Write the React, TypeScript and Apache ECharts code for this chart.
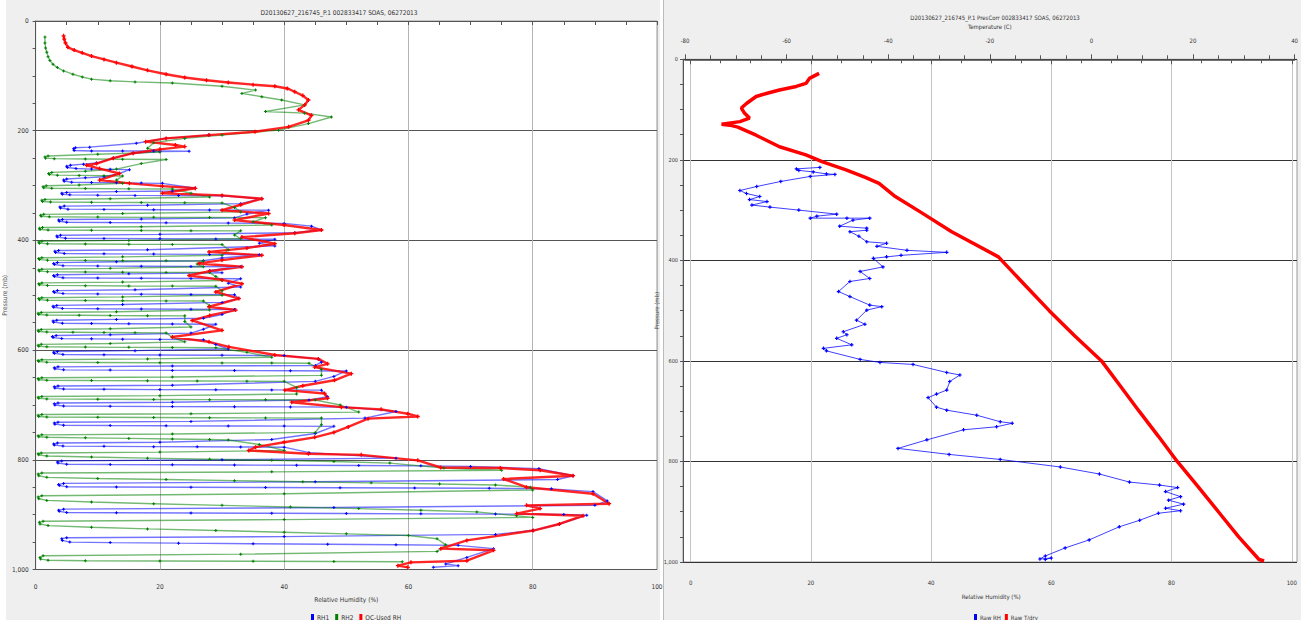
import React, { useEffect, useRef } from "react";
import * as echarts from "echarts";

const leftTitle = "D20130627_216745_P.1 002833417 SOAS, 06272013";
const rightTitle = "D20130627_216745_P.1 PresCorr 002833417 SOAS, 06272013";
const leftSeriesNames = ["RH1", "RH2", "QC-Used RH"];
const rightSeriesNames = ["Raw RH", "Raw T/dry"];
const rhAxisName = "Relative Humidity (%)";
const pressureAxisName = "Pressure (mb)";
const tempAxisName = "Temperature (C)";

// [relative humidity %, pressure mb]
const qcUsedRH = [
  [4.5,27],[4.6,33],[4.8,40],[5.2,48],[6.2,53],[7.5,58],[9,64],[11,70],[13,76],[15.5,83],[18,90],[21,97],[24,103],[27.5,108],[31,112],[35,116],[38.5,119],[40.5,123],[41.7,129],[43,136],[43.9,144],[43.3,153],[42.3,162],[44.4,172],[43.9,181],[40.7,193],[35.3,202],[27.9,208],[21,214],[17.7,220],[22.5,226],[24,229],[20,234],[15.7,241],[12.5,250],[9.8,260],[8.2,263],[10.3,269],[13.5,278],[10.3,290],[15.1,296],[20.4,301],[25.7,305],[20.4,314],[30,318],[36.4,324],[33,335],[30,345],[37.5,351],[32,363],[40,372],[46,381],[41.7,387],[33.2,394],[38.5,406],[34,414],[27.9,421],[36.4,427],[30,436],[26.3,442],[33.2,448],[28,456],[24.7,464],[30,472],[33.2,479],[29,494],[32.7,506],[27.9,521],[32.2,527],[28,537],[25.2,546],[30,564],[22,576],[27.9,585],[31.1,594],[38.5,609],[45.5,616],[47,625],[44.9,631],[50.8,643],[48.1,655],[43,665],[40.1,673],[46.5,679],[47,688],[41.2,695],[49.2,704],[55.6,708],[59.9,716],[61.5,721],[53.5,725],[50.3,740],[48,750],[44.9,759],[40,768],[35.4,777],[34.3,783],[43.9,789],[52.4,791],[61.5,801],[65.2,814],[74.8,815],[81.2,819],[86.5,829],[75.3,835],[79,850],[89.7,862],[92.3,880],[79,883],[81.2,889],[77.4,898],[88.1,902],[84.3,917],[80.1,929],[69.4,947],[65.2,962],[73.7,965],[69.4,984],[60.4,987],[58.3,993],[59.9,996]
];

const rh1 = [
  [27.9,208],[21,214],[16.2,223],[8.7,230],[6.4,231],[6.1,233],[6.2,236],[9,237],[14,237],[19,237],[24.7,237.5],[20,238],[15.7,241],[12.5,250],[9.8,259],
  [7.7,261],[5.6,263],[5,265],[5.1,267],[6.5,269],[9,270],[12,270.5],[15.1,271],[13.5,278],[11,284],
  [8,286],[5,288],[4.5,290],[4.6,292],[5.8,294],[9,294.5],[13,295],[17,295.5],[20.4,296],[25.7,305],[22,310],
  [13,311],[5,312.5],[4.2,314],[4.3,316],[5.5,317],[10,317.5],[16,318],[23,318.3],[30,318.5],[36.4,324],[33,333],
  [18,336],[4.6,337.5],[3.9,339],[4,341],[5.2,343],[11,343.5],[19,344],[28,344.5],[37.5,345],[34,352],[32,359],
  [17,361],[4.3,362],[3.7,363],[3.8,365],[5,367],[12,367.5],[21,368],[31,368.5],[40,369],[44.4,374],[46,381],[41.7,386],
  [20,389],[4,390.5],[3.4,392],[3.5,394],[4.8,396],[11,396.5],[20,397],[29,397.5],[38.5,398],[36,405],[38.5,410],
  [18,417],[3.7,418.5],[3.1,420],[3.2,422],[4.6,424],[11,424.5],[19,425],[28,425.5],[36,426],[30,432],[27,437],
  [13,439],[3.5,440.5],[2.9,442],[3,444],[4.4,446],[10,446.5],[17,447],[25,447.5],[33,448],[28,455],[30,459],
  [15,461],[3.5,462.5],[2.9,464],[3,466],[4.4,468],[10,468.5],[17,469],[25,469.5],[33,470],[31,478],[33,485],
  [16,490],[3.5,491.5],[2.9,493],[3,495],[4.4,497],[10,497.5],[17,498],[25,498.5],[32,499],[32.7,506],[30,513],
  [14,517],[3.4,518.5],[2.8,520],[2.9,522],[4.3,524],[10,524.5],[17,525],[25,525.5],[32,526],[30,535],[27,542],
  [13,544],[3.4,545.5],[2.8,547],[2.9,549],[4.3,551],[9,551.5],[15,552],[22,552.5],[29,553],[27,562],[25,569],
  [12,572],[3.3,573.5],[2.7,575],[2.8,577],[4.2,579],[9,579.5],[14,580],[20,580.5],[27,581],[29,590],[31,598],
  [16,601],[3.5,602.5],[2.9,604],[3,606],[4.4,608],[11,608.5],[20,609],[30,609.5],[40,610],[45.5,616],[46,622],[45,628],
  [22,629],[3.6,630.5],[3,632],[3.1,634],[4.5,636],[12,636.5],[22,637],[32,637.3],[41,637.6],[50,638],[48,648],[45,657],
  [22,664],[3.6,665.5],[3,667],[3.1,669],[4.5,671],[11,671.5],[20,672],[29,672.3],[38,672.6],[46,673],[47,685],[44,691],
  [22,695],[3.6,696.5],[3,698],[3.1,700],[4.5,702],[12,702.5],[22,703],[32,703.3],[41,703.6],[50,704],[58,712],[53,724],
  [25,730],[3.6,731.5],[3,733],[3.1,735],[4.5,737],[12,737.5],[21,738],[31,738.3],[40,738.6],[48,739],[45,752],[38,763],
  [20,768],[3.5,769.5],[2.9,771],[3,773],[4.4,775],[11,775.5],[19,776],[26,776.3],[33,776.6],[40,777],[44,787],[58,797],
  [30,800],[4.2,802],[3.5,804],[3.6,806],[5,808],[12,808.5],[22,809],[32,809.5],[42,810],[52,810.5],[62,811],[70,812],[81,816],[86.5,829],[84,836],
  [45,840],[4.5,843],[3.7,845],[3.8,847],[5,849],[13,849.5],[25,850],[37,850.5],[49,851],[61,851.5],[73,852],[83,853],[89.7,858],[92,875],[90,883],
  [48,887],[4.5,890],[3.7,892],[3.8,894],[5,896],[13,896.5],[25,897],[38,897.5],[50,898],[62,898.5],[74,899],[85,899.5],[88.7,901],[84.3,917],[80,929],[74,936],
  [40,940],[5,942],[4.2,944],[4.3,947],[5.5,950],[12,951],[23,952],[35,953],[47,954],[58,955],[68,956],[73.7,962],[69.4,978],[66,990],[68,993],[64,996]
];

const rh2 = [
  [1.5,29],[1.5,40],[1.6,49],[1.8,57],[2,65],[2.3,72],[2.8,79],[3.5,85],[4.5,91],[6,97],[7.5,102],[9,106],[12,109],[16,111],[22,113],[30,119],[35.4,126],[33.2,132],[36.4,138],[39.6,144],[43.3,153],[37,165],[43.3,168],[47.6,175],[43.9,187],[39.1,199],[30,208],[24,214],[19,222],[18,232],[20,239],
  [10,243],[2,246],[1.5,248],[1.6,250],[3,251],[8,251.5],[14,252],[21,252.5],[17,260],[13,270],
  [8,274],[2.6,276],[2.1,278],[2.2,280],[3.5,281],[7,281.5],[11,282],[14,282.5],[13,290],[14,296],
  [7,299],[1.7,300.5],[1.2,302],[1.3,304],[2.6,305],[8,305.5],[15,306],[22,306.3],[25,314],[28,321],
  [12,324],[1.5,325.5],[1,327],[1.1,329],[2.4,330],[9,330.5],[17,331],[24,331.3],[30,331.6],[32,340],[33,348],
  [14,351],[1.3,352.5],[0.8,354],[0.9,356],[2.2,357],[10,357.5],[19,358],[28,358.3],[37,358.6],[35,366],[38,372],
  [17,375],[1.1,376.5],[0.6,378],[0.7,380],[2,381],[9,381.5],[17,382],[25,382.3],[33,382.6],[32,390],[33,397],
  [15,400],[1,401.5],[0.5,403],[0.6,405],[1.9,406],[8,406.5],[15,407],[22,407.3],[30,407.6],[31,417],[30,427],
  [14,430],[1,431.5],[0.5,433],[0.6,435],[1.9,436],[8,436.5],[14,437],[21,437.3],[27,437.6],[26,443],[27,448],
  [12,451],[1,452.5],[0.5,454],[0.6,456],[1.9,457],[8,457.5],[14,458],[21,458.3],[28,458.6],[29,466],[30,473],
  [14,476],[1,477.5],[0.5,479],[0.6,481],[1.9,482],[8,482.5],[15,483],[22,483.3],[29,483.6],[30,492],[30,500],
  [14,503],[1,504.5],[0.5,506],[0.6,508],[1.9,509],[8,509.5],[14,510],[21,510.3],[27,510.6],[28,519],[28,527],
  [13,530],[0.9,531.5],[0.4,533],[0.5,535],[1.8,536],[7,536.5],[12,537],[18,537.3],[24,537.6],[24,548],[25,558],
  [12,561],[0.9,562.5],[0.4,564],[0.5,566],[1.8,567],[6,567.5],[11,568],[16,568.3],[21,568.6],[22,577],[24,585],
  [12,588],[0.9,589.5],[0.4,591],[0.5,593],[1.8,594],[8,594.5],[15,595],[22,595.3],[29,595.6],[34,604],[38,613],
  [18,616],[1,617.5],[0.4,619],[0.5,621],[1.8,622],[10,622.5],[20,623],[30,623.3],[38,623.6],[44,624],[46,635],[46,646],
  [22,649],[1,650.5],[0.4,652],[0.5,654],[1.8,655],[9,655.5],[18,656],[26,656.3],[34,656.6],[40,657],[42,668],[42,680],
  [20,683],[1,684.5],[0.4,686],[0.5,688],[1.8,689],[10,689.5],[19,690],[28,690.3],[37,690.6],[45,691],[49,700],[52,713],
  [25,716],[1,717.5],[0.4,719],[0.5,721],[1.8,722],[10,722.5],[19,723],[28,723.3],[37,723.6],[46,724],[46,736],[45,750],
  [22,753],[1,754.5],[0.4,756],[0.5,758],[1.8,759],[8,760],[15,761],[22,762],[28,763],[31,764],[36,772],[40,783],
  [20,786],[0.9,787.5],[0.4,789],[0.5,791],[1.8,793],[9,795],[18,797],[28,799],[38,801],[48,803],[57,806],[65.7,815],[75,819],
  [38,822],[1,824],[0.4,826],[0.5,829],[1.8,832],[10,834],[21,836],[32,838],[43,840],[54,842],[65,844],[74,846],[79.6,850],[80,855],
  [40,862],[1,865.5],[0.4,868],[0.5,871],[1.8,874],[9,877],[19,880],[30,883],[41,886],[52,889],[62,892],[71,895],[77.4,902],[80,905],
  [40,909],[1.2,912],[0.6,914],[0.7,917],[2,920],[9,923],[18,926],[29,929],[40,932],[50,935],[60,938],[64.6,944],[66,955],[64.6,967],
  [33,972],[1.2,975],[0.7,978],[0.8,981],[2,983],[8,984],[20,984.5],[35,985],[48,985.5],[59,986]
];

// right panel: [relative humidity %, pressure mb]
const rawRH = [
  [21.5,215],[17.6,218],[18,221],[20.4,224],[22.6,228],[24,229],[19.9,233],[15,243],[11,253],[8.2,261],[9.3,267],[11.5,273],[9.8,279],[12.7,283],[10.2,290],[13.2,294],[18,300],[24.3,308],[21,312],[19.9,316],[26,316],[29.8,316],[27,320],[24.8,332],[29.3,336],[29.3,340],[26.5,343],[28,352],[29.3,363],[32.6,366],[31,372],[36,380],[42.6,384],[35,390],[32.6,393],[30.4,396],[32,413],[28.2,422],[29.8,436],[26.5,442],[24.6,462],[26.5,472],[29.8,489],[31.8,492],[29.3,499],[27.6,519],[29,527],[25.4,542],[26,548],[24.3,555],[26.8,568],[22.1,575],[22.6,580],[28.2,597],[31.5,603],[37,607],[42.6,623],[44.8,628],[43.1,641],[42.6,658],[40.9,666],[39.5,673],[40.9,692],[42.6,698],[47.6,708],[51.5,721],[53.5,724],[50.9,731],[45.4,737],[39.3,757],[34.5,774],[43,786],[51.5,796],[61.5,811],[68,825],[73,841],[78,847],[81,852],[79,860],[81.5,870],[79.5,877],[82,885],[79,893],[81.5,898],[77.8,903],[74.7,917],[71.3,930],[66.3,956],[62.3,972],[59,988],[58.1,994],[60,992],[59,995]
];

// right panel: [temperature C, pressure mb]
const rawTemp = [
  [-53.6,28],[-55.5,38],[-56.2,48],[-58.1,54],[-61.4,61],[-64,68],[-66,74],[-67.9,88],[-68.9,97],[-68.3,107],[-67.3,117],[-69.2,124],[-72.8,129],[-71.2,131],[-69.6,135],[-66,151],[-61.4,174],[-56.2,190],[-52.9,204],[-48.3,220],[-44.5,235],[-41.8,247],[-38.6,273],[-33.3,306],[-27.5,343],[-18.3,393],[-13,450],[-8.3,500],[-3.3,550],[2,600],[5.7,650],[9.4,700],[13.2,750],[16.9,800],[21,850],[25,900],[29,950],[33,995],[34,998]
];

const FONT = "'Liberation Sans Narrow','DejaVu Sans Condensed',sans-serif";
const PLUS = "path://M1,0H2V1H3V2H2V3H1V2H0V1H1Z";
const fmtP = (v: number) => v.toLocaleString("en-US");

function lineSeries(name: string, data: number[][], color: string, xi: number, yi: number, width: number, opacity: number, sym: number) {
  return {
    name, type: "line", xAxisIndex: xi, yAxisIndex: yi, data,
    symbol: PLUS, symbolSize: sym, showSymbol: sym > 0, silent: true,
    itemStyle: { color }, lineStyle: { color, width, opacity },
    emphasis: { disabled: true },
  };
}

export default function App() {
  const ref = useRef<HTMLDivElement>(null);
  useEffect(() => {
    if (!ref.current) return;
    const chart = echarts.init(ref.current, null, { renderer: "svg" });
    const lbl = (fs: number, margin: number) => ({ fontSize: fs, color: "#333", fontFamily: FONT, margin });
    const axLine = { show: true, lineStyle: { color: "#555", width: 1 } };
    const tick = (len: number) => ({ show: true, length: len, lineStyle: { color: "#555" } });
    const minor = (len: number) => ({ show: true, splitNumber: 4, length: len, lineStyle: { color: "#555" } });
    const option: any = {
      animation: false,
      backgroundColor: "#efefef",
      textStyle: { fontFamily: FONT },
      graphic: [
        { type: "rect", shape: { x: 0, y: 0, width: 6, height: 620 }, style: { fill: "#ffffff" }, silent: true },
        { type: "rect", shape: { x: 660, y: 0, width: 4, height: 620 }, style: { fill: "#ffffff" }, silent: true },
        { type: "line", shape: { x1: 663.5, y1: 0, x2: 663.5, y2: 620 }, style: { stroke: "#bbbbbb", lineWidth: 1 }, silent: true },
      ],
      title: [
        { text: leftTitle, left: 334, top: 4, textAlign: "center", textStyle: { fontSize: 6.5, fontWeight: "normal", color: "#333", fontFamily: FONT } },
        { text: rightTitle, left: 990, top: 9, textAlign: "center", textStyle: { fontSize: 6, fontWeight: "normal", color: "#333", fontFamily: FONT } },
      ],
      legend: [
        { data: leftSeriesNames, left: 306, top: 609, icon: "rect", itemWidth: 3, itemHeight: 7, itemGap: 6, textStyle: { fontSize: 6.5, color: "#333", fontFamily: FONT, padding: [0, 0, 0, -2] } },
        { data: rightSeriesNames, left: 969, top: 609, icon: "rect", itemWidth: 3, itemHeight: 7, itemGap: 4, textStyle: { fontSize: 6, color: "#333", fontFamily: FONT, padding: [0, 0, 0, -2] } },
      ],
      grid: [
        { left: 32, top: 21, width: 625, height: 548.5, show: true, backgroundColor: "#ffffff", borderColor: "#999", borderWidth: 1 },
        { left: 683, top: 59.3, width: 614, height: 502.7, show: true, backgroundColor: "#ffffff", borderColor: "#999", borderWidth: 1 },
        { left: 690.6, top: 59.3, width: 601.2, height: 502.7, show: false },
        { left: 685, top: 59.3, width: 613, height: 502.7, show: false },
      ],
      xAxis: [
        {
          type: "value", gridIndex: 0, min: 0, max: 100, interval: 20, position: "bottom", offset: 6,
          axisLine: axLine, axisTick: tick(4), minorTick: minor(4), axisLabel: lbl(6.5, 8),
          splitLine: { show: true, lineStyle: { color: "#b4b4b4", width: 1 } },
          name: rhAxisName, nameLocation: "middle", nameGap: 21, nameTextStyle: { fontSize: 6.5, color: "#333", fontFamily: FONT },
        },
        { type: "value", gridIndex: 1, min: 0, max: 1, show: false },
        {
          type: "value", gridIndex: 2, min: 0, max: 100, interval: 20, position: "bottom", offset: 7,
          axisLine: axLine, axisTick: tick(5), minorTick: minor(4), axisLabel: lbl(6, 10),
          splitLine: { show: true, lineStyle: { color: "#c4c4c4", width: 1 } },
          name: rhAxisName, nameLocation: "middle", nameGap: 24, nameTextStyle: { fontSize: 6, color: "#333", fontFamily: FONT },
        },
        {
          type: "value", gridIndex: 3, min: -80, max: 40, interval: 20, position: "top", offset: 6,
          axisLine: { show: true, lineStyle: { color: "#444", width: 1.5 } }, axisTick: tick(5), minorTick: minor(4), axisLabel: lbl(6, 10),
          splitLine: { show: false },
          name: tempAxisName, nameLocation: "middle", nameGap: 24, nameTextStyle: { fontSize: 6, color: "#333", fontFamily: FONT },
        },
      ],
      yAxis: [
        {
          type: "value", gridIndex: 0, min: 0, max: 1000, interval: 200, inverse: true, offset: 3,
          axisLine: axLine, axisTick: tick(3), minorTick: minor(3), axisLabel: { ...lbl(6.5, 4), formatter: fmtP },
          splitLine: { show: true, lineStyle: { color: "#555", width: 1 } },
          name: pressureAxisName, nameLocation: "middle", nameGap: 15, nameRotate: 90, nameTextStyle: { fontSize: 6.5, color: "#555", fontFamily: FONT },
        },
        {
          type: "value", gridIndex: 1, min: 0, max: 1000, interval: 200, inverse: true, offset: 2,
          axisLine: axLine, axisTick: tick(3), minorTick: minor(3), axisLabel: { ...lbl(5.5, 3), formatter: fmtP },
          splitLine: { show: true, lineStyle: { color: "#333", width: 1 } },
          name: pressureAxisName, nameLocation: "middle", nameGap: 9, nameRotate: 90, nameTextStyle: { fontSize: 6, color: "#555", fontFamily: FONT },
        },
        { type: "value", gridIndex: 2, min: 0, max: 1000, inverse: true, show: false },
        { type: "value", gridIndex: 3, min: 0, max: 1000, inverse: true, show: false },
      ],
      series: [
        lineSeries("RH1", rh1, "#0000ff", 0, 0, 1.4, 0.55, 3),
        lineSeries("RH2", rh2, "#008000", 0, 0, 1.4, 0.55, 3),
        lineSeries("QC-Used RH", qcUsedRH, "#ff0000", 0, 0, 2.4, 0.85, 4),
        lineSeries("Raw RH", rawRH, "#0000ff", 2, 2, 1, 0.75, 3.5),
        lineSeries("Raw T/dry", rawTemp, "#ff0000", 3, 3, 3.5, 1, 0),
      ],
    };
    chart.setOption(option);
    return () => chart.dispose();
  }, []);
  return <div ref={ref} style={{ position: "absolute", left: 0, top: 0, width: 1301, height: 620 }} />;
}
